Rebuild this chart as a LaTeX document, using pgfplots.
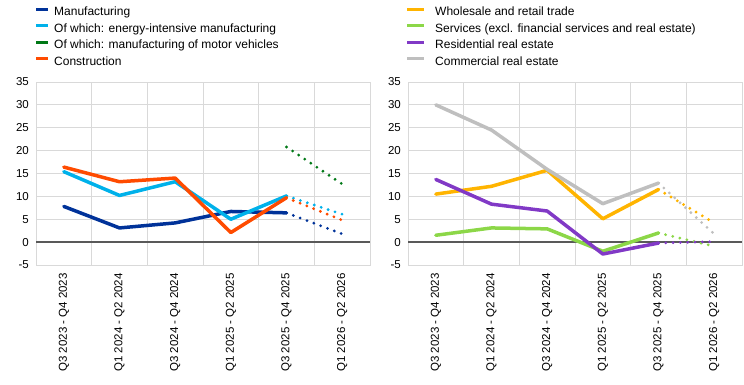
\documentclass[border=0pt]{standalone}
\usepackage{fontspec}
\setmainfont{Liberation Sans}
\usepackage{pgfplots}
\pgfplotsset{compat=1.18}
\definecolor{cManu}{HTML}{003299}
\definecolor{cEnergy}{HTML}{00B1EA}
\definecolor{cMotor}{HTML}{007816}
\definecolor{cConstr}{HTML}{FF4B00}
\definecolor{cTrade}{HTML}{FFB400}
\definecolor{cServ}{HTML}{8CD748}
\definecolor{cResid}{HTML}{8139C6}
\definecolor{cComm}{HTML}{BFBFBF}
\definecolor{cGrid}{HTML}{D9D9D9}
\definecolor{cZero}{HTML}{595959}
\pgfplotsset{
  panel/.style={
    scale only axis, width=334pt, height=183pt,
    xmin=-0.5, xmax=5.5, ymin=-5, ymax=35,
    ytick={-5,0,...,35},
    xtick={0,1,2,3,4,5},
    xticklabels={Q3 2023 - Q4 2023, Q1 2024 - Q2 2024, Q3 2024 - Q4 2024, Q1 2025 - Q2 2025, Q3 2025 - Q4 2025, Q1 2026 - Q2 2026},
    minor xtick={-0.5,0.5,...,5.5},
    xminorgrids=true, ymajorgrids=true,
    grid style={cGrid, line width=0.8pt},
    minor grid style={cGrid, line width=0.8pt},
    axis line style={cGrid, line width=0.8pt},
    major tick length=0pt, minor tick length=0pt,
    /pgf/number format/assume math mode=true,
    tick label style={font=\fontsize{11.5}{13}\selectfont, black},
    yticklabel style={inner sep=0pt, xshift=-7pt},
    xticklabel style={rotate=90, anchor=east, inner sep=0pt, xshift=-8pt},
    legend style={draw=none, fill=none, at={(0,1)}, anchor=south west, yshift=12pt,
      font=\fontsize{12}{14}\selectfont, row sep=5pt,
      nodes={inner xsep=3pt, inner ysep=0pt, text height=9pt, text depth=2.5pt}},
    legend cell align=left,
    clip=false,
  },
  sol/.style={line width=3.5pt, line join=round, line cap=round, forget plot},
  dot/.style={line width=3.1pt, line cap=round, dash pattern=on 0pt off 7.3pt, forget plot},
  limgL/.style={legend image code/.code={\fill[#1, draw=none] (0pt,1.8pt) rectangle (12pt,5pt); \path[draw=none, fill=none] (0pt,0pt) rectangle (15pt,0.1pt);}},
  limgR/.style={legend image code/.code={\fill[#1, draw=none] (0pt,1.8pt) rectangle (17pt,5pt); \path[draw=none, fill=none] (0pt,0pt) rectangle (25pt,0.1pt);}},
}
\begin{document}
\begin{tikzpicture}[x=1pt,y=1pt]
\useasboundingbox (0,0) rectangle (744,385);
\begin{axis}[panel, at={(36pt,120pt)}, anchor=south west, legend style={xshift=-3pt}]
\addlegendimage{limgL=cManu}\addlegendentry{Manufacturing}
\addlegendimage{limgL=cEnergy}\addlegendentry{Of which: energy-intensive manufacturing}
\addlegendimage{limgL=cMotor}\addlegendentry{Of which: manufacturing of motor vehicles}
\addlegendimage{limgL=cConstr}\addlegendentry{Construction}
\draw[cZero, line width=1.8pt] (axis cs:-0.5,0) -- (axis cs:5.5,0);
\addplot[sol, cManu] coordinates {(0,7.8) (1,3.1) (2,4.2) (3,6.7) (4,6.4)};
\addplot[dot, cManu] coordinates {(4,6.4) (5,1.8)};
\addplot[sol, cEnergy] coordinates {(0,15.4) (1,10.2) (2,13.2) (3,5.0) (4,10.1)};
\addplot[dot, cEnergy] coordinates {(4,10.1) (5,6.1)};
\addplot[dot, cMotor] coordinates {(4,20.8) (5,12.7)};
\addplot[sol, cConstr] coordinates {(0,16.4) (1,13.2) (2,14.0) (3,2.1) (4,9.7)};
\addplot[dot, cConstr] coordinates {(4,9.7) (5,4.8)};
\end{axis}
\begin{axis}[panel, at={(408pt,120pt)}, anchor=south west, legend style={xshift=-4pt}]
\addlegendimage{limgR=cTrade}\addlegendentry{Wholesale and retail trade}
\addlegendimage{limgR=cServ}\addlegendentry{Services (excl. financial services and real estate)}
\addlegendimage{limgR=cResid}\addlegendentry{Residential real estate}
\addlegendimage{limgR=cComm}\addlegendentry{Commercial real estate}
\draw[cZero, line width=1.8pt] (axis cs:-0.5,0) -- (axis cs:5.5,0);
\addplot[sol, cTrade] coordinates {(0,10.5) (1,12.2) (2,15.7) (3,5.1) (4,11.5)};
\addplot[dot, cTrade] coordinates {(4,11.5) (5,4.2)};
\addplot[sol, cServ] coordinates {(0,1.5) (1,3.1) (2,2.9) (3,-2.0) (4,2.0)};
\addplot[dot, cServ] coordinates {(4,2.0) (5,-0.9)};
\addplot[sol, cResid] coordinates {(0,13.7) (1,8.3) (2,6.8) (3,-2.6) (4,-0.2)};
\addplot[dot, cResid] coordinates {(4,-0.2) (5,0.1)};
\addplot[sol, cComm] coordinates {(0,30.0) (1,24.5) (2,15.9) (3,8.4) (4,12.9)};
\addplot[dot, cComm] coordinates {(4,12.9) (5,1.8)};
\end{axis}
\end{tikzpicture}
\end{document}
